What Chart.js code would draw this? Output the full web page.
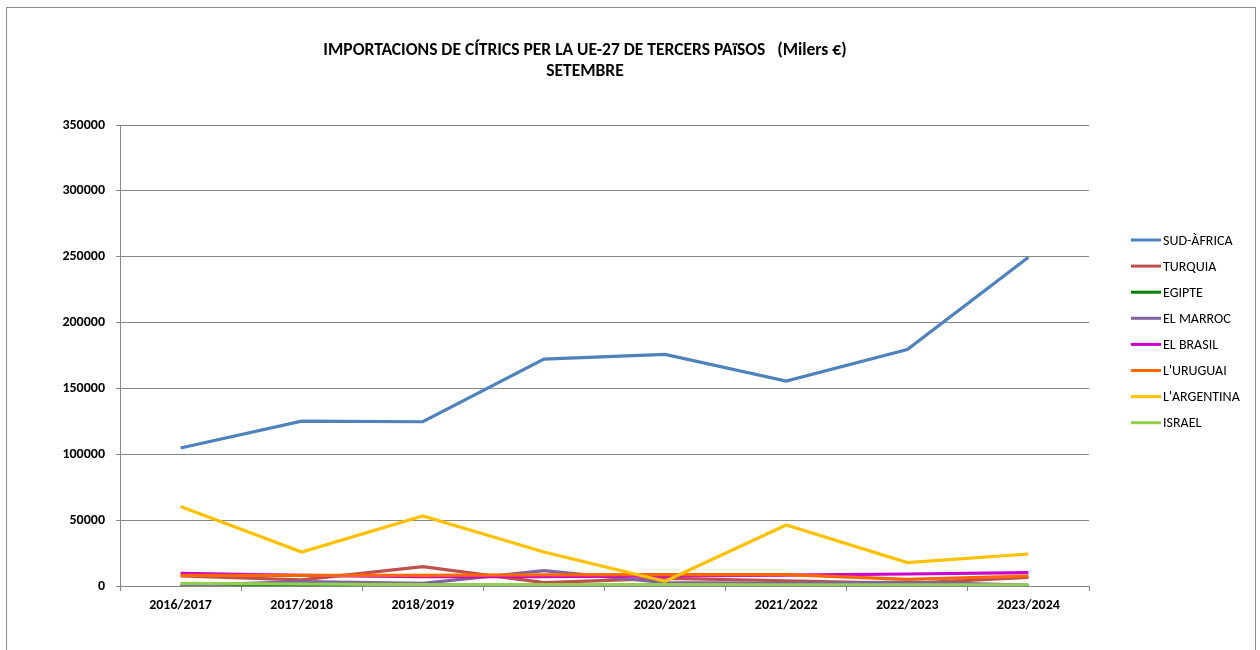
<!DOCTYPE html>
<html>
<head>
<meta charset="utf-8">
<script src="https://cdn.jsdelivr.net/npm/chart.js@4/dist/chart.umd.min.js"></script>
<style>
  html, body { margin: 0; padding: 0; background: #fff; overflow: hidden; }
  #frame {
    position: absolute; left: 6px; top: 7px; width: 1248px; height: 660px;
    border: 1px solid #8c8c8c; border-bottom: none;
  }
  #wrap { position: absolute; left: 0; top: 0; width: 1260px; height: 650px; }
</style>
</head>
<body>
<div id="frame"></div>
<div id="wrap"><canvas id="chart" width="1260" height="650"></canvas></div>
<script>
// temporades
const seasons = ['2016/2017', '2017/2018', '2018/2019', '2019/2020', '2020/2021', '2021/2022', '2022/2023', '2023/2024'];

// valors (milers €) llegits del gràfic
const sudAfrica = [104800, 125200, 124700, 172300, 175800, 155600, 179600, 249600];
const turquia   = [7600, 4600, 14700, 2500, 5800, 4000, 2000, 6500];
const egipte    = [300, 300, 200, 200, 200, 200, 200, 200];
const marroc    = [300, 3300, 2000, 11600, 2500, 2000, 3000, 700];
const brasil    = [9600, 8000, 7100, 7100, 7700, 8300, 9100, 10100];
const uruguai   = [8100, 8100, 8100, 8500, 8600, 8600, 5000, 7600];
const argentina = [60300, 25800, 53200, 25800, 3600, 46300, 17800, 24300];
const israel    = [2000, 1500, 1000, 1000, 1000, 800, 800, 800];

const names  = ['SUD-ÀFRICA', 'TURQUIA', 'EGIPTE', 'EL MARROC', 'EL BRASIL', "L'URUGUAI", "L'ARGENTINA", 'ISRAEL'];
const series = [sudAfrica, turquia, egipte, marroc, brasil, uruguai, argentina, israel];
const colors = ['#4F81BD', '#C0504D', '#008000', '#8064A2', '#CC00CC', '#FF6600', '#FFC000', '#92D050'];

const titleLines = ['IMPORTACIONS DE CÍTRICS PER LA UE-27 DE TERCERS PAïSOS   (Milers €)', 'SETEMBRE'];

const FONT = 'Carlito, "Liberation Sans", Arial, sans-serif';

// titol i llegenda dibuixats a ma (posicio com a l'original)
const extras = {
  id: 'extras',
  afterDraw(chart) {
    const ctx = chart.ctx;
    ctx.save();
    ctx.fillStyle = '#000';
    ctx.textAlign = 'center';
    ctx.textBaseline = 'middle';
    ctx.font = 'bold 17.5px ' + FONT;
    ctx.fillText(titleLines[0], 585, 51);
    ctx.fillText(titleLines[1], 585, 72);

    ctx.textAlign = 'left';
    ctx.font = '14px ' + FONT;
    chart.data.datasets.forEach((ds, i) => {
      const y = 240 + i * 26.1;
      ctx.strokeStyle = ds.borderColor;
      ctx.lineWidth = 3;
      ctx.beginPath();
      ctx.moveTo(1131, y);
      ctx.lineTo(1161, y);
      ctx.stroke();
      ctx.fillText(ds.label, 1163, y + 1);
    });
    ctx.restore();
  }
};

new Chart(document.getElementById('chart'), {
  type: 'line',
  data: {
    labels: seasons,
    datasets: names.map((n, i) => ({
      label: n,
      data: series[i],
      borderColor: colors[i],
      backgroundColor: colors[i],
      borderWidth: 3.2,
      pointRadius: 0,
      tension: 0,
      order: names.length - i
    }))
  },
  options: {
    responsive: false,
    animation: false,
    devicePixelRatio: 1,
    layout: { padding: { left: 0, right: 171, top: 125, bottom: 0 } },
    plugins: {
      legend: { display: false },
      title: { display: false },
      tooltip: { enabled: false }
    },
    scales: {
      x: {
        type: 'category',
        offset: true,
        grid: { offset: true, drawOnChartArea: false, drawTicks: true, tickLength: 5, color: '#868686' },
        border: { display: true, color: '#868686', width: 1 },
        ticks: { color: '#000', font: { family: FONT, size: 14, weight: 'bold' }, padding: 6, maxRotation: 0 },
        afterFit: s => { s.height = 64; }
      },
      y: {
        min: 0,
        max: 350000,
        ticks: {
          stepSize: 50000, color: '#000', font: { family: FONT, size: 14, weight: 'bold' }, padding: 11,
          callback: v => String(v)
        },
        grid: { color: '#868686', lineWidth: 1, tickLength: 4 },
        border: { display: true, color: '#868686', width: 1 },
        afterFit: s => { s.width = 120; }
      }
    }
  },
  plugins: [extras]
});
</script>
</body>
</html>
